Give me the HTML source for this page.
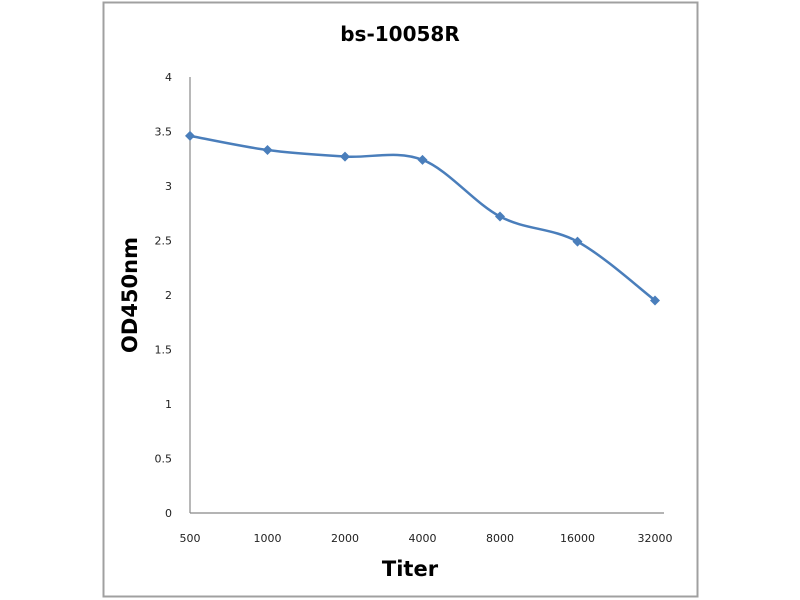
<!DOCTYPE html>
<html><head><meta charset="utf-8"><style>
body{margin:0;background:#fff;}
svg{display:block;font-family:"DejaVu Sans","Liberation Sans",sans-serif;}
</style></head><body>
<svg id="chart" width="800" height="600">
<rect x="103.5" y="2.5" width="594" height="594" fill="#fff" stroke="#a0a0a0" stroke-width="2"/>
<text x="400" y="41" text-anchor="middle" font-size="20" font-weight="bold" fill="#000">bs-10058R</text>
<text transform="translate(137,295) rotate(-90)" text-anchor="middle" font-size="21" font-weight="bold" fill="#000">OD450nm</text>
<text x="410" y="576" text-anchor="middle" font-size="21" font-weight="bold" fill="#000">Titer</text>
<g id="axes"></g><g id="marks"></g>
</svg>
<script>
const categories=["500","1000","2000","4000","8000","16000","32000"];
const values=[3.46,3.33,3.27,3.24,2.72,2.49,1.95];
const yTicks=[0,0.5,1,1.5,2,2.5,3,3.5,4];
const yTickLabels=["0","0.5","1","1.5","2","2.5","3","3.5","4"];
const NS="http://www.w3.org/2000/svg";
const x0=190,step=77.5,yBase=513,yTop=77,yMax=4;
function xs(i){return x0+i*step;}
function ys(v){return yBase-(v/yMax)*(yBase-yTop);}
function mk(t,a,p){const e=document.createElementNS(NS,t);for(const k in a)e.setAttribute(k,a[k]);p.appendChild(e);return e;}
const axes=document.getElementById('axes'),marks=document.getElementById('marks');
const ya=mk('line',{x1:x0,y1:yTop,x2:x0,y2:yBase,stroke:'#888','stroke-width':1.2},axes);


const xa=mk('line',{x1:x0,y1:yBase,x2:664,y2:yBase,stroke:'#888','stroke-width':1.2},axes);


yTicks.forEach((v,i)=>{const t=mk('text',{x:172,y:ys(v)+4,'text-anchor':'end','font-size':11,fill:'#222'},axes);t.textContent=yTickLabels[i];

});
categories.forEach((c,i)=>{const t=mk('text',{x:xs(i),y:542,'text-anchor':'middle','font-size':11,fill:'#222'},axes);t.textContent=c;

});
const pts=values.map((v,i)=>[xs(i),ys(v)]);
let d='M'+pts[0][0]+','+pts[0][1];
for(let i=0;i<pts.length-1;i++){const p0=pts[i-1]||pts[i],p1=pts[i],p2=pts[i+1],p3=pts[i+2]||p2;const k=1/6;
d+=' C'+(p1[0]+(p2[0]-p0[0])*k)+','+(p1[1]+(p2[1]-p0[1])*k)+' '+(p2[0]-(p3[0]-p1[0])*k)+','+(p2[1]-(p3[1]-p1[1])*k)+' '+p2[0]+','+p2[1];}
const line=mk('path',{d:d,fill:'none',stroke:'#4a7ebb','stroke-width':2.5},marks);


pts.forEach(p=>{const m=mk('path',{d:`M${p[0]},${p[1]-5} L${p[0]+5},${p[1]} L${p[0]},${p[1]+5} L${p[0]-5},${p[1]} Z`,fill:'#4a7ebb'},marks);

});
</script>
</body></html>
